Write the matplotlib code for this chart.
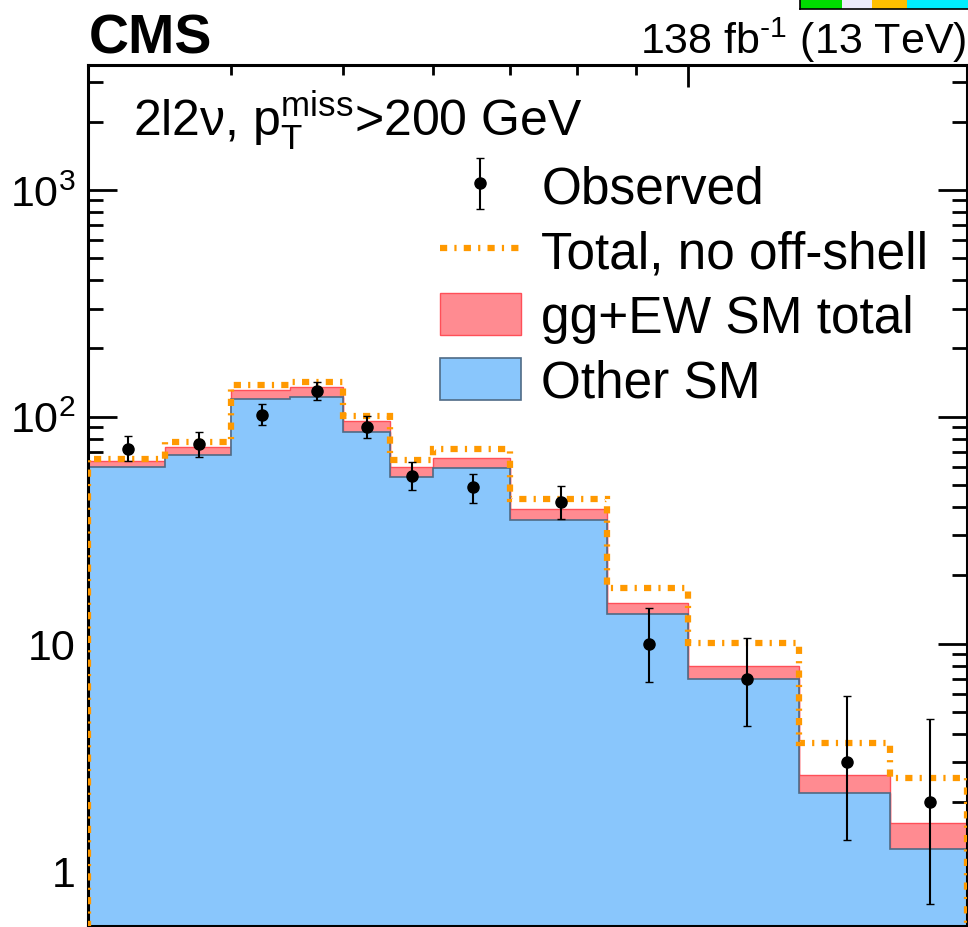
import numpy as np
import matplotlib
matplotlib.use("Agg")
import matplotlib.pyplot as plt
from matplotlib.patches import Rectangle, Patch
from matplotlib.lines import Line2D
from matplotlib.ticker import FixedLocator, LogLocator, NullFormatter, FuncFormatter

plt.rcParams['font.family'] = ['Liberation Sans', 'DejaVu Sans']
plt.rcParams['mathtext.fontset'] = 'custom'
plt.rcParams['mathtext.rm'] = 'Liberation Sans'
plt.rcParams['mathtext.it'] = 'Liberation Sans:italic'
plt.rcParams['mathtext.bf'] = 'Liberation Sans:bold'

# mT(ZZ) bin edges in GeV
edges = [300, 350, 400, 450, 500, 550, 600, 700, 850, 1000, 1250, 1500, 1750]
# expected yields per bin
other_sm = [59.9, 67.6, 120.2, 122.1, 86.0, 54.0, 59.3, 35.1, 13.5, 7.0, 2.2, 1.25]
gg_ew = [4.1, 6.3, 10.5, 13.0, 9.7, 6.1, 6.8, 4.0, 1.6, 0.95, 0.45, 0.37]
no_offshell = [65.0, 77.4, 137.9, 142.1, 100.7, 64.5, 71.9, 43.6, 17.6, 10.1, 3.65, 2.56]
# data with 68% interval bounds
observed = [72, 76, 102, 130, 90, 55, 49, 42, 10, 7, 3, 2]
obs_lo = [63.9, 66.5, 91.9, 118.4, 80.4, 47.4, 41.8, 35.4, 6.8, 4.35, 1.37, 0.71]
obs_hi = [82.0, 85.6, 113.4, 141.8, 100.6, 63.2, 56.2, 49.4, 14.3, 10.6, 5.9, 4.64]

edges = np.array(edges, dtype=float)
other_sm = np.array(other_sm)
total_sm = other_sm + np.array(gg_ew)
observed = np.array(observed, dtype=float)
centers = 0.5 * (edges[1:] + edges[:-1])
yerr = [observed - np.array(obs_lo), np.array(obs_hi) - observed]

blue = '#89c6fc'
blue_edge = '#4f6b86'
red = '#ff8b91'
red_edge = '#ff4f58'
orange = '#ff9900'
dash = (0, (1.15, 1.15, 0.35, 1.15))

fig = plt.figure(figsize=(9.68, 9.28), dpi=100)
ax = fig.add_axes([88/968, 1/928, (967-88)/968, (927-66)/928])

ax.stairs(total_sm, edges, baseline=other_sm, fill=True,
          facecolor=red, edgecolor=red_edge, linewidth=1.0, zorder=2)
ax.stairs(other_sm, edges, baseline=1e-2, fill=True,
          facecolor=blue, edgecolor=blue_edge, linewidth=1.2, zorder=2)
ax.stairs(no_offshell, edges, baseline=1e-2, fill=False,
          edgecolor=orange, linewidth=4.5, linestyle=dash, zorder=3)
eb = ax.errorbar(centers, observed, yerr=yerr, fmt='o', color='k', ms=8,
                 elinewidth=1.5, capsize=3.0, capthick=1.0, zorder=4)

ax.set_xscale('log')
ax.set_yscale('log')
ax.set_xlim(300, 1750)
ax.set_ylim(0.57, 3550)

ax.xaxis.set_major_locator(FixedLocator([1000]))
ax.xaxis.set_minor_locator(LogLocator(subs=np.arange(2, 10)))
ax.xaxis.set_major_formatter(NullFormatter())
ax.xaxis.set_minor_formatter(NullFormatter())

def ylab(v, pos):
    if v == 1:
        return '1'
    if v == 10:
        return '10'
    return r'$10^{%d}$' % int(round(np.log10(v)))

ax.yaxis.set_major_locator(FixedLocator([1, 10, 100, 1000]))
ax.yaxis.set_minor_locator(LogLocator(subs=np.arange(2, 10)))
ax.yaxis.set_major_formatter(FuncFormatter(ylab))
ax.yaxis.set_minor_formatter(NullFormatter())

ax.tick_params(axis='x', which='major', direction='in', length=16, width=2, top=True)
ax.tick_params(axis='x', which='minor', direction='in', length=7.5, width=2, top=True)
ax.tick_params(axis='y', which='major', direction='in', length=21, width=2,
               right=True, labelsize=31, pad=9)
ax.tick_params(axis='y', which='minor', direction='in', length=11, width=2, right=True)
for s in ax.spines.values():
    s.set_linewidth(2.2)

fig.text(89/968, 1 - 53/928, 'CMS', fontsize=40, fontweight='bold',
         ha='left', va='baseline')
fig.text(966/968, 1 - 54/928, '138 fb$^{\\mathrm{\u20101}}$ (13 TeV)', fontsize=31,
         ha='right', va='baseline')
fig.text(133/968, 1 - 137/928,
         r'2l2$\mathrm{\nu}$, $\mathrm{p}_{\mathrm{T}}^{\mathrm{miss}}$>200 GeV',
         fontsize=36, ha='left', va='baseline')

handles = [eb,
           Line2D([], [], color=orange, lw=4.5, linestyle=dash),
           Patch(facecolor=red, edgecolor=red_edge, linewidth=1.0),
           Patch(facecolor=blue, edgecolor=blue_edge, linewidth=1.2)]
labels = ['Observed', 'Total, no off-shell', 'gg+EW SM total', 'Other SM']
ax.legend(handles, labels, loc='upper left', bbox_to_anchor=(0.4, 0.885),
          frameon=False, fontsize=37, handlelength=1.58, handleheight=0.88,
          handletextpad=0.4, labelspacing=0.29, borderpad=0, borderaxespad=0)

# strip of another panel's colour bar at the top edge
strip = [(800, 842, '#00dd00'), (842, 872, '#ebebfa'),
         (872, 907, '#ffc000'), (907, 968, '#00eeff')]
for x0, x1, c in strip:
    fig.add_artist(Rectangle((x0/968, 1 - 10/928), (x1 - x0)/968, 10/928,
                             transform=fig.transFigure, facecolor=c,
                             edgecolor='none'))
fig.add_artist(Line2D([800/968, 1], [1 - 10/928, 1 - 10/928],
                      transform=fig.transFigure, color='k', lw=1.2))
fig.add_artist(Line2D([800/968, 800/968], [1 - 10/928, 1],
                      transform=fig.transFigure, color='k', lw=1.2))

fig.savefig('out.png', dpi=100)
